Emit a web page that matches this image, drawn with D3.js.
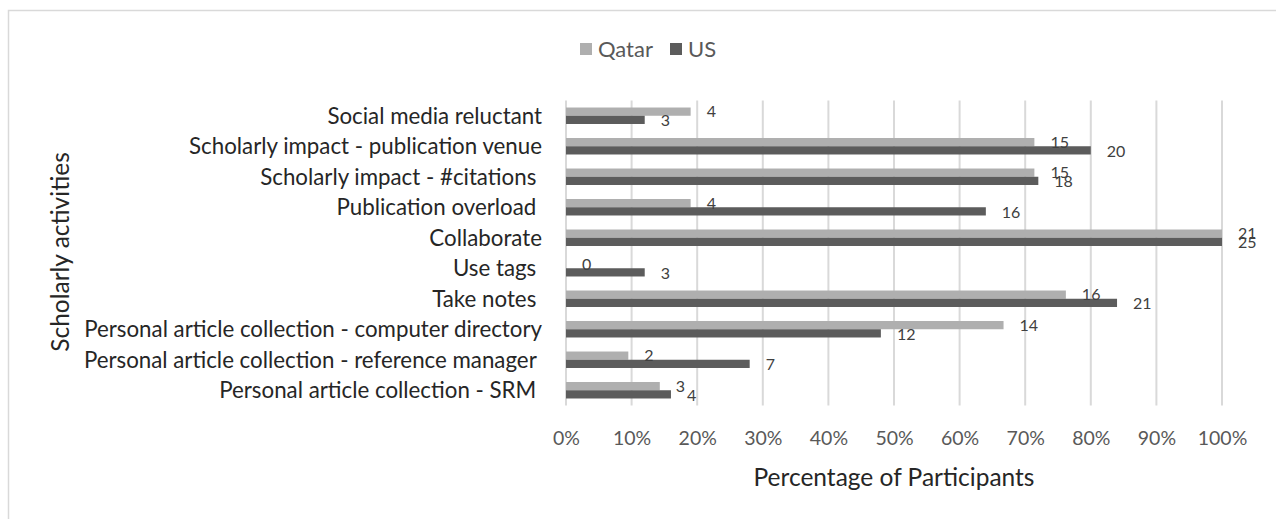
<!DOCTYPE html>
<html>
<head>
<meta charset="utf-8">
<script src="https://cdn.jsdelivr.net/npm/d3@7"></script>
<style>
  html, body { margin: 0; padding: 0; background: #fff; }
  svg { display: block; font-family: Lato, "Open Sans", sans-serif; }
</style>
</head>
<body>
<svg id="chart" width="1276" height="519"></svg>
<script>
// ---- data ----
const categories = [
  "Social media reluctant",
  "Scholarly impact - publication venue",
  "Scholarly impact - #citations ",
  "Publication overload ",
  "Collaborate",
  "Use tags ",
  "Take notes ",
  "Personal article collection - computer directory",
  "Personal article collection - reference manager ",
  "Personal article collection - SRM "
];
const seriesNames = ["Qatar", "US"];
// percentage of participants (Qatar n=21, US n=25)
const qatarPct = [19.0, 71.4, 71.4, 19.0, 100, 0, 76.2, 66.7, 9.5, 14.3];
const usPct    = [12, 80, 72, 64, 100, 12, 84, 48, 28, 16];
// data labels (participant counts)
const qatarCount = [4, 15, 15, 4, 21, 0, 16, 14, 2, 3];
const usCount    = [3, 20, 18, 16, 25, 3, 21, 12, 7, 4];
const xTicks = [0, 10, 20, 30, 40, 50, 60, 70, 80, 90, 100];

const colors = { Qatar: "#afafaf", US: "#5c5c5c" };

const svg = d3.select("#chart");

// chart border
svg.append("rect")
  .attr("x", 8.5).attr("y", 10.5)
  .attr("width", 1300).attr("height", 600)
  .attr("fill", "none").attr("stroke", "#d9d9d9").attr("stroke-width", 1.5);

const plot = { left: 566, right: 1222, top: 100.5, bottom: 405.5 };

const x = d3.scaleLinear().domain([0, 100]).range([plot.left, plot.right]);
const y = d3.scaleBand().domain(categories)
  .range([plot.top, plot.bottom]).paddingInner(0.46).paddingOuter(0.23);
const ySub = d3.scaleBand().domain(seriesNames).range([0, y.bandwidth()]);

// gridlines
svg.append("g").selectAll("line").data(xTicks).join("line")
  .attr("x1", d => x(d)).attr("x2", d => x(d))
  .attr("y1", plot.top).attr("y2", plot.bottom)
  .attr("stroke", "#d9d9d9").attr("stroke-width", 2);

// x axis tick labels
const xAxis = d3.axisBottom(x).tickValues(xTicks).tickFormat(d => d + "%").tickSize(0).tickPadding(0);
const gx = svg.append("g").attr("transform", `translate(0, ${plot.bottom})`).call(xAxis);
gx.select(".domain").remove();
gx.selectAll("text")
  .attr("y", 33).attr("dy", "0.35em")
  .attr("fill", "#595959").style("font-size", "19.5px").style("font-family", "Lato, sans-serif");

// y axis category labels
const yAxis = d3.axisLeft(y).tickSize(0).tickPadding(0);
const gy = svg.append("g").attr("transform", `translate(542, 0)`).call(yAxis);
gy.select(".domain").remove();
gy.selectAll("text")
  .attr("fill", "#262626").style("font-size", "22.3px")
  .style("font-family", "Lato, sans-serif")
  .style("white-space", "pre")
  .attr("dy", "0.35em");

// bars
const groups = svg.append("g").selectAll("g").data(categories).join("g")
  .attr("transform", d => `translate(0, ${y(d)})`);

const rows = categories.map((c, i) => [
  { key: "Qatar", v: qatarPct[i], n: qatarCount[i] },
  { key: "US", v: usPct[i], n: usCount[i] }
]);

groups.each(function(c, i) {
  const g = d3.select(this);
  g.selectAll("rect").data(rows[i]).join("rect")
    .attr("x", x(0))
    .attr("y", d => ySub(d.key))
    .attr("width", d => x(d.v) - x(0))
    .attr("height", ySub.bandwidth())
    .attr("fill", d => colors[d.key]);
  g.selectAll("text").data(rows[i]).join("text")
    .attr("x", d => x(d.v) + 16)
    .attr("y", d => ySub(d.key) + ySub.bandwidth() / 2 + (d.key === "US" ? 1 : 0))
    .attr("dy", "0.35em")
    .attr("fill", "#404040")
    .style("font-size", "16px")
    .text(d => d.n);
});

// axis titles
svg.append("text")
  .attr("x", (plot.left + plot.right) / 2).attr("y", 477)
  .attr("dy", "0.35em").attr("text-anchor", "middle")
  .attr("fill", "#262626").style("font-size", "24.5px")
  .text("Percentage of Participants");

svg.append("text")
  .attr("transform", `translate(60, 252) rotate(-90)`)
  .attr("dy", "0.35em").attr("text-anchor", "middle")
  .attr("fill", "#262626").style("font-size", "24.5px")
  .text("Scholarly activities");

// legend
const legend = svg.append("g").attr("transform", "translate(580, 49.5)");
const legendItems = [
  { key: "Qatar", dx: 0 },
  { key: "US", dx: 90 }
];
const li = legend.selectAll("g").data(legendItems).join("g")
  .attr("transform", d => `translate(${d.dx}, 0)`);
li.append("rect").attr("x", 0).attr("y", -6.5).attr("width", 12).attr("height", 12)
  .attr("fill", d => colors[d.key]);
li.append("text").attr("x", 18).attr("dy", "0.35em")
  .attr("fill", "#595959").style("font-size", "22px")
  .text(d => d.key);
</script>
</body>
</html>
